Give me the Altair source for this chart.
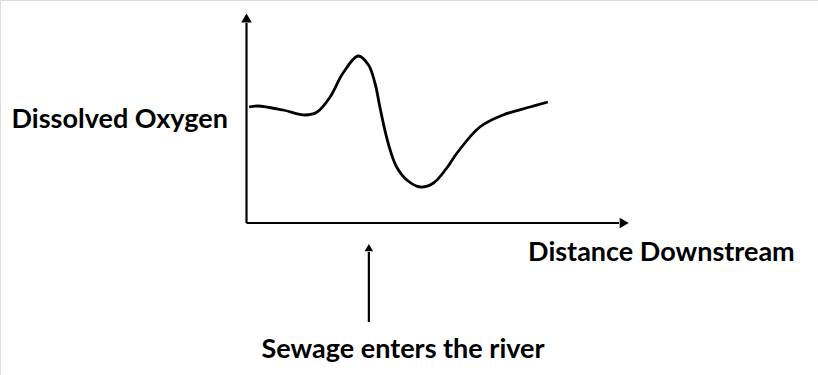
import altair as alt
import pandas as pd

# Curve: dissolved oxygen along the river (arbitrary units)
distance = [0.7, 3.0, 9.6, 15.4, 18.6, 22.0, 25.4, 29.4, 32.1, 33.8, 35.1, 36.4,
            37.8, 39.5, 42.2, 45.7, 49.2, 52.7, 55.4, 61.4, 67.5, 74.6, 79.3]
oxygen = [5.8, 5.85, 5.65, 5.4, 5.55, 6.3, 7.5, 8.35, 7.9, 7.0, 5.8, 4.65,
          3.65, 2.8, 2.15, 1.8, 2.0, 2.75, 3.5, 4.8, 5.4, 5.8, 6.05]

# Labels
label_texts = ["Dissolved Oxygen", "Distance Downstream", "Sewage enters the river"]
label_x = [-4.9, 74.1, 41.2]
label_y = [5.15, -1.5, -6.35]
label_align = ["right", "left", "center"]

# Axis extents and sewage inflow point
axis_x_end = 98.0
axis_y_end = 10.0
sewage_at = 32.2
sewage_arrow_from = -4.95
sewage_arrow_to = -1.45

XS = alt.Scale(domain=[-64.87, 150.39], nice=False, zero=False)
YS = alt.Scale(domain=[-7.6, 11.15], nice=False, zero=False)

curve_df = pd.DataFrame({"d": distance, "o": oxygen})
curve = alt.Chart(curve_df).mark_line(
    color="black", strokeWidth=2.8, interpolate="catmull-rom"
).encode(
    x=alt.X("d:Q", scale=XS, axis=None),
    y=alt.Y("o:Q", scale=YS, axis=None),
)

rules_df = pd.DataFrame({
    "x": [0, 0, sewage_at],
    "x2": [axis_x_end, 0, sewage_at],
    "y": [0, 0, sewage_arrow_from],
    "y2": [0, axis_y_end, sewage_arrow_to],
})
rules = alt.Chart(rules_df).mark_rule(color="black", strokeWidth=2.2).encode(
    x=alt.X("x:Q", scale=XS, axis=None), x2="x2:Q",
    y=alt.Y("y:Q", scale=YS, axis=None), y2="y2:Q",
)

heads_df = pd.DataFrame({
    "x": [0, axis_x_end + 1.4, sewage_at],
    "y": [axis_y_end + 0.25, 0, sewage_arrow_to + 0.22],
    "shape": ["triangle-up", "triangle-right", "triangle-up"],
    "size": [110, 110, 70],
})
heads = alt.Chart(heads_df).mark_point(filled=True, color="black", opacity=1).encode(
    x=alt.X("x:Q", scale=XS, axis=None),
    y=alt.Y("y:Q", scale=YS, axis=None),
    shape=alt.Shape("shape:N", scale=None),
    size=alt.Size("size:Q", scale=None),
)

labels_df = pd.DataFrame({"t": label_texts, "x": label_x, "y": label_y, "a": label_align})
text_layers = []
for a in ["right", "left", "center"]:
    text_layers.append(
        alt.Chart(labels_df[labels_df["a"] == a]).mark_text(
            font="Lato", fontWeight="bold", fontSize=27, color="black",
            align=a, baseline="middle"
        ).encode(
            x=alt.X("x:Q", scale=XS, axis=None),
            y=alt.Y("y:Q", scale=YS, axis=None),
            text="t:N",
        )
    )

chart = alt.layer(rules, heads, curve, *text_layers).properties(
    width=818, height=375, padding=0, autosize=alt.AutoSizeParams(type="none")
).configure_view(stroke=None).configure(background="white")

chart.save("out.html", embed_options={"renderer": "svg", "actions": False})
